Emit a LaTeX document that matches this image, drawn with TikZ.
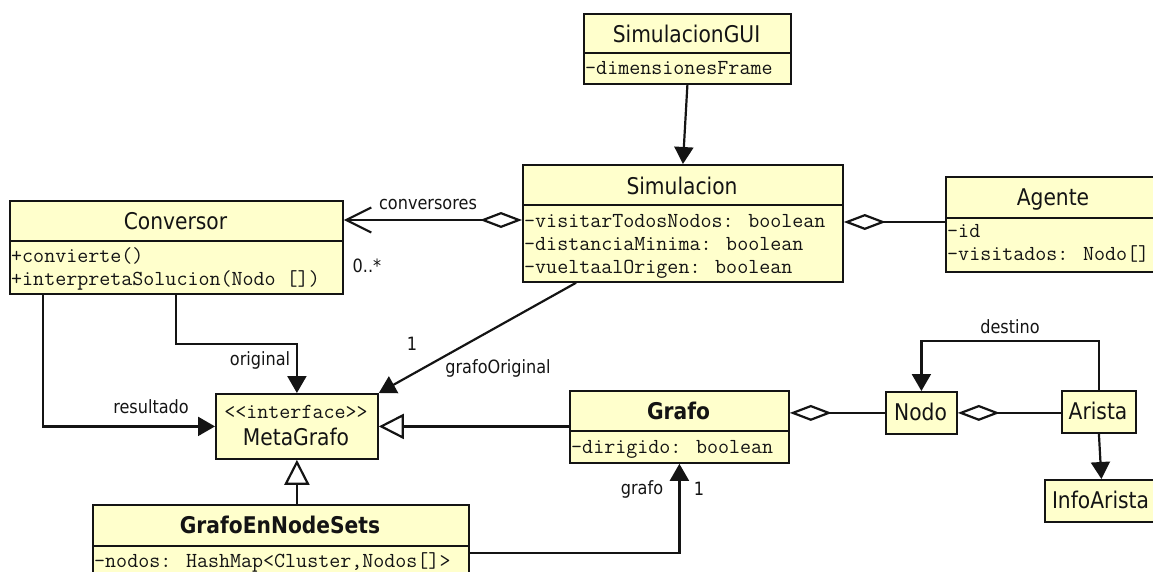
\documentclass[tikz,border=0pt]{standalone}
\usepackage{fontspec}
\setmainfont{DejaVu Sans}[FakeStretch=0.88]
\usetikzlibrary{arrows.meta,calc}
\definecolor{umlfill}{RGB}{255,255,204}
\definecolor{umlink}{RGB}{20,20,20}

\tikzset{
  box/.style={draw=umlink, fill=umlfill, line width=1.8pt, inner sep=0pt, anchor=north west},
  divider/.style={draw=umlink, line width=1.8pt},
  title/.style={font=\fontsize{23}{26}\selectfont, inner sep=0pt, anchor=base, text=umlink},
  btitle/.style={title, font=\fontsize{23}{26}\selectfont\bfseries},
  attr/.style={font=\ttfamily\fontsize{21.4}{24}\selectfont, inner sep=0pt, anchor=base west, text=umlink},
  lbl/.style={font=\fontsize{18.3}{21}\selectfont, inner sep=0pt, anchor=base, text=umlink},
  link/.style={line width=2.2pt, draw=umlink},
  assoc/.style={link, -{Triangle[length=17pt,width=19pt]}},
  gen/.style={link, -{Triangle[open,length=25pt,width=25pt,fill=white]}},
  agg/.style={link, {Diamond[open,length=42pt,width=16pt,fill=white]}-},
}

\begin{document}
\begin{tikzpicture}[x=1pt,y=-1pt]
  \useasboundingbox (0,0) rectangle (1153,571);
  \clip (0,0) rectangle (1153,571);

  % class boxes
  \node[box, minimum width=207pt, minimum height=70pt]  (gui)    at (583,13)  {};
  \node[box, minimum width=320pt, minimum height=117pt] (sim)    at (522,164) {};
  \node[box, minimum width=333pt, minimum height=93pt]  (conv)   at (9,200)   {};
  \node[box, minimum width=216pt, minimum height=95pt]  (agente) at (945,176) {};
  \node[box, minimum width=162pt, minimum height=65pt]  (meta)   at (215,393) {};
  \node[box, minimum width=219pt, minimum height=72pt]  (grafo)  at (569,390) {};
  \node[box, minimum width=376pt, minimum height=80pt]  (gens)   at (92,504)  {};
  \node[box, minimum width=71pt,  minimum height=42pt]  (nodo)   at (885,391) {};
  \node[box, minimum width=74pt,  minimum height=42pt]  (arista) at (1061,390) {};
  \node[box, minimum width=113pt, minimum height=42pt]  (info)   at (1044,479) {};

  % compartment dividers
  \draw[divider] (gui.west |- 0,53)     -- (gui.east |- 0,53);
  \draw[divider] (sim.west |- 0,205)    -- (sim.east |- 0,205);
  \draw[divider] (conv.west |- 0,241)   -- (conv.east |- 0,241);
  \draw[divider] (agente.west |- 0,218) -- (agente.east |- 0,218);
  \draw[divider] (grafo.west |- 0,431)  -- (grafo.east |- 0,431);
  \draw[divider] (gens.west |- 0,546)   -- (gens.east |- 0,546);

  % class names
  \node[title]  (guiT)    at (686.5,42)  {SimulacionGUI};
  \node[title]  (simT)    at (682,194)   {Simulacion};
  \node[title]  (convT)   at (175.5,229) {Conversor};
  \node[title]  (agenteT) at (1053,205)  {Agente};
  \node[attr, anchor=base] (metaS) at (296,418) {<{}<interface>{}>};
  \node[title]  (metaT)   at (296,445)   {MetaGrafo};
  \node[btitle] (grafoT)  at (678.5,419) {Grafo};
  \node[btitle] (gensT)   at (280,533)   {GrafoEnNodeSets};
  \node[title]  (nodoT)   at (920.5,420) {Nodo};
  \node[title]  (aristaT) at (1098,419)  {Arista};
  \node[title]  (infoT)   at (1100.5,508) {InfoArista};

  % attributes and operations
  \node[attr] (guiA)  at (585,74)  {-dimensionesFrame};
  \node[attr] (simA)  at (524,227) {-visitarTodosNodos: boolean};
  \node[attr] (simB)  at (524,250) {-distanciaMinima: boolean};
  \node[attr] (simC)  at (524,273) {-vueltaalOrigen: boolean};
  \node[attr] (convA) at (11,262)  {+convierte()};
  \node[attr] (convB) at (11,285)  {+interpretaSolucion(Nodo [])};
  \node[attr] (agA)   at (947,237) {-id};
  \node[attr] (agB)   at (947,260) {-visitados: Nodo[]};
  \node[attr] (grA)   at (571,453) {-dirigido: boolean};
  \node[attr] (gensA) at (94,567)  {-nodos: HashMap<Cluster,Nodos[]>};

  % relations
  \draw[assoc] (gui.south) -- (sim.north);
  \draw[link, {Diamond[open,length=42pt,width=16pt,fill=white]}-{Straight Barb[length=25pt,width=25pt]}]
        (sim.west |- 0,220) -- (conv.east |- 0,220);
  \draw[agg] (sim.east |- 0,222) -- (agente.west |- 0,222);
  \draw[assoc] (sim.south -| 576,0) -- (meta.north east);
  \draw[assoc] (conv.south -| 43,0) |- (meta.west);
  \draw[assoc] (conv.south -| 176,0) -- ++(0,49) -| (meta.north);
  \draw[gen] (gens.north -| meta.south) -- (meta.south);
  \draw[gen] (grafo.west |- meta.east) -- (meta.east);
  \draw[assoc] (gens.east |- 0,553) -| (grafo.south);
  \draw[agg] (grafo.east |- nodo.west) -- (nodo.west);
  \draw[agg] (nodo.east) -- (arista.west |- nodo.east);
  \draw[assoc] (arista.north) -- ++(0,-49) -| (nodo.north);
  \draw[assoc] (arista.south) -- (info.north);

  % role names and multiplicities
  \node[lbl] (lConv)  at (428,209)  {conversores};
  \node[lbl] (lMany)  at (367,272)  {0..*};
  \node[lbl] (lOne)   at (412,350)  {1};
  \node[lbl] (lOrigG) at (498,373)  {grafoOriginal};
  \node[lbl] (lOrig)  at (260,365)  {original};
  \node[lbl] (lRes)   at (151,413)  {resultado};
  \node[lbl] (lGrafo) at (642,494)  {grafo};
  \node[lbl] (lOneG)  at (699,495)  {1};
  \node[lbl] (lDest)  at (1010,333) {destino};
\end{tikzpicture}
\end{document}
